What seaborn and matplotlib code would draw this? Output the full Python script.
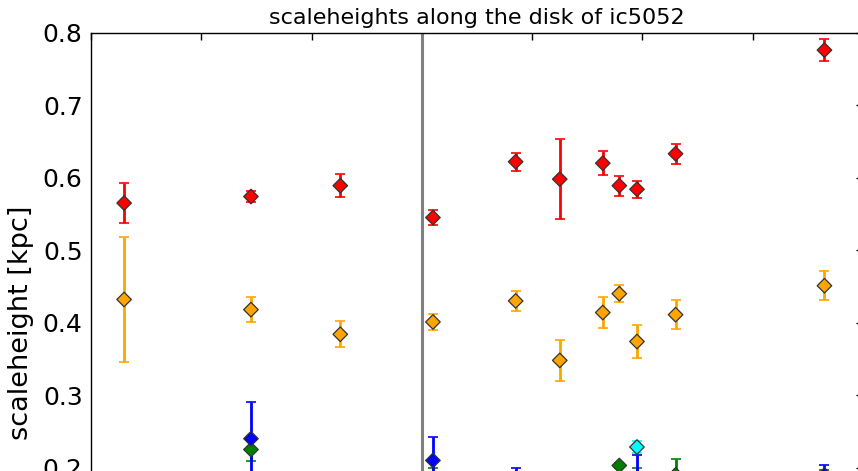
import matplotlib
matplotlib.use("Agg")
import matplotlib.pyplot as plt
import seaborn as sns
import pandas as pd

# positions along the disk (axis units), vertical marker at the centre
pos_all = [-2.70, -1.55, -0.74, 0.10, 0.85, 1.25, 1.64, 1.79, 1.95, 2.30, 3.65]

red_val = [0.565, 0.574, 0.589, 0.545, 0.622, 0.598, 0.620, 0.589, 0.584, 0.633, 0.776]
red_err = [0.028, 0.008, 0.0155, 0.0105, 0.0127, 0.0556, 0.0168, 0.0136, 0.0115, 0.0136, 0.0149]

orange_val = [0.432, 0.418, 0.384, 0.401, 0.430, 0.348, 0.414, 0.440, 0.374, 0.411, 0.451]
orange_err = [0.086, 0.0175, 0.018, 0.0108, 0.014, 0.0278, 0.0216, 0.0115, 0.0228, 0.0198, 0.0196]

blue_pos = [-1.55, 0.10, 0.85, 1.95, 3.65]
blue_val = [0.240, 0.210, 0.170, 0.180, 0.190]
blue_err = [0.051, 0.032, 0.030, 0.037, 0.014]

green_pos = [-1.55, 0.10, 1.79, 1.95, 2.30, 3.65]
green_val = [0.225, 0.185, 0.203, 0.185, 0.190, 0.185]
green_err = [0.0156, 0.015, 0.003, 0.015, 0.022, 0.012]

cyan_pos = [1.95]
cyan_val = [0.2285]
cyan_err = [0.008]

y_ticks = [0.2, 0.3, 0.4, 0.5, 0.6, 0.7, 0.8]
y_ticklabels = ["0.2", "0.3", "0.4", "0.5", "0.6", "0.7", "0.8"]

title = "scaleheights along the disk of ic5052"
ylabel = "scaleheight [kpc]"

sns.set_style("white")
plt.rcParams.update({
    "xtick.direction": "in", "ytick.direction": "in",
    "xtick.top": True, "ytick.right": True,
    "axes.edgecolor": "black", "axes.linewidth": 1.0,
    "text.color": "black", "axes.labelcolor": "black",
    "xtick.color": "black", "ytick.color": "black",
})
plt.rcParams["font.family"] = ["DejaVu Sans"]

fig = plt.figure(figsize=(8.58, 4.71), dpi=100)
ax = fig.add_axes([0.1061, -0.3008, 0.8998, 1.2314])

series = [
    ("red", pos_all, red_val, red_err),
    ("orange", pos_all, orange_val, orange_err),
    ("green", green_pos, green_val, green_err),
    ("blue", blue_pos, blue_val, blue_err),
    ("cyan", cyan_pos, cyan_val, cyan_err),
]

ax.axvline(0.0, color="#808080", lw=2.2, zorder=1)

frames = []
for name, xs, ys, es in series:
    ax.errorbar(xs, ys, yerr=es, fmt="none", ecolor=name, elinewidth=2.0,
                capsize=3.5, capthick=1.2, zorder=2)
    frames.append(pd.DataFrame({"pos": xs, "h": ys, "comp": name}))
df = pd.concat(frames, ignore_index=True)

sns.scatterplot(data=df, x="pos", y="h", hue="comp",
                palette={s[0]: s[0] for s in series}, marker="D", s=55,
                edgecolor="#333333", linewidth=0.9, legend=False, ax=ax, zorder=3)

ax.set_xlim(-3, 4)
ax.set_ylim(0.0, 0.8)
ax.set_xticks(range(-3, 5))
ax.set_xticklabels([])
ax.set_yticks(y_ticks)
ax.set_yticklabels(y_ticklabels)
ax.tick_params(axis="both", length=5, width=1, labelsize=18, pad=6)
ax.set_xlabel("")
ax.set_ylabel(ylabel, fontsize=19.5, labelpad=6)
ax.set_title(title, fontsize=16, pad=6)

fig.savefig("out.png", dpi=100)
